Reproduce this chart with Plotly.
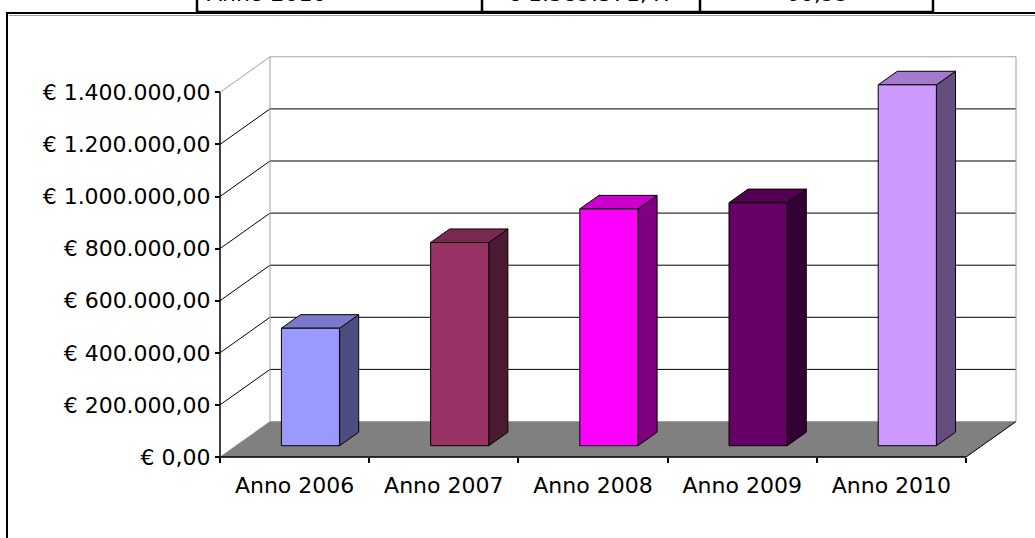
import plotly.graph_objects as go

# data
categories = ["Anno 2006", "Anno 2007", "Anno 2008", "Anno 2009", "Anno 2010"]
values = [451000, 780000, 909000, 933000, 1385371.47]
tick_values = [0, 200000, 400000, 600000, 800000, 1000000, 1200000, 1400000]
tick_labels = ["€ 0,00", "€ 200.000,00", "€ 400.000,00", "€ 600.000,00", "€ 800.000,00",
               "€ 1.000.000,00", "€ 1.200.000,00", "€ 1.400.000,00"]
front_colors = ["#9999FF", "#993366", "#FF00FF", "#660066", "#CC99FF"]
top_colors = ["#7A7ACC", "#7A2952", "#CC00CC", "#520052", "#A37ACC"]
side_colors = ["#4D4D80", "#4D1A33", "#800080", "#330033", "#664D80"]

# table row peeking in at the top of the page
table_row = ["Anno 2010", "€ 1.385.371,47", "60,55"]

W, H = 1035, 538
FONT = "DejaVu Sans, Verdana, sans-serif"
FS = 22

# pixel layout of the 3d box
PX_CAT = 149.2          # pixels per category
PX_VAL = 52.1 / 200000  # pixels per value unit
X0, Y0 = 220, 457       # front-left-bottom corner in pixels
L, R, T, B = 215, 1021, 50, 462   # plot area in pixels
DXc = 50 / PX_CAT       # depth offset in category units
DYv = 35.5 / PX_VAL     # depth offset in value units
vmax = tick_values[-1]
ncat = len(categories)

xr = [(L - X0) / PX_CAT, (R - X0) / PX_CAT]
yr = [(Y0 - B) / PX_VAL, (Y0 - T) / PX_VAL]


def px(x):
    return (x - L) / (R - L)


def py(y):
    return (B - y) / (B - T)


fig = go.Figure()


def line(xs, ys, color="black", width=1):
    fig.add_trace(go.Scatter(x=xs, y=ys, mode="lines", line=dict(color=color, width=width),
                             hoverinfo="skip", showlegend=False))


def poly(xs, ys, fill, color="black", width=1):
    fig.add_trace(go.Scatter(x=xs + xs[:1], y=ys + ys[:1], mode="lines", fill="toself",
                             fillcolor=fill, line=dict(color=color, width=width),
                             hoverinfo="skip", showlegend=False))


# floor
poly([0, ncat, ncat + DXc, DXc], [0, 0, DYv, DYv], "#808080", color="#808080", width=0.5)
line([ncat, ncat + DXc], [0, DYv], "black", 1)

# back wall gridlines and side diagonals
for v in tick_values[1:]:
    c = "#A0A0A0" if v == vmax else "black"
    line([0, DXc, ncat + DXc], [v, v + DYv, v + DYv], c, 1)
line([DXc, DXc], [DYv, vmax + DYv], "#A0A0A0", 1)
line([ncat + DXc, ncat + DXc], [DYv, vmax + DYv], "#A0A0A0", 1)

# front axes
line([0, 0], [0, vmax], "black", 1.5)
line([0, ncat], [0, 0], "black", 1.5)

# bars as boxes
hw, d0, d1 = 0.195, 0.318, 0.70
for i, v in enumerate(values):
    cx = i + 0.5
    xl0, xr0 = cx - hw + d0 * DXc, cx + hw + d0 * DXc
    xl1, xr1 = cx - hw + d1 * DXc, cx + hw + d1 * DXc
    b0, b1 = d0 * DYv, d1 * DYv
    poly([xr0, xr1, xr1, xr0], [b0, b1, v + b1, v + b0], side_colors[i])
    poly([xl0, xr0, xr1, xl1], [v + b0, v + b0, v + b1, v + b1], top_colors[i])
    poly([xl0, xr0, xr0, xl0], [b0, b0, v + b0, v + b0], front_colors[i])

fig.update_layout(
    width=W, height=H,
    margin=dict(l=L, r=W - R, t=T, b=H - B),
    paper_bgcolor="white", plot_bgcolor="white",
    font=dict(family=FONT, size=FS, color="black"),
    xaxis=dict(range=xr, showgrid=False, zeroline=False, showline=False,
               tickvals=[i + 0.5 for i in range(ncat)], ticktext=categories,
               ticks="", anchor="free", position=py(Y0), ticklabelstandoff=13),
    xaxis2=dict(range=xr, overlaying="x", showgrid=False, zeroline=False, showline=False,
                tickvals=list(range(ncat + 1)), showticklabels=False,
                ticks="outside", ticklen=5, tickcolor="black", tickwidth=1.5,
                anchor="free", position=py(Y0), side="bottom"),
    yaxis=dict(range=yr, showgrid=False, zeroline=False, showline=False,
               tickvals=tick_values, ticktext=tick_labels,
               ticks="outside", ticklen=5, tickcolor="black", tickwidth=1.5,
               anchor="free", position=px(X0)),
)
fig.add_trace(go.Scatter(x=[0], y=[0], xaxis="x2", mode="markers", opacity=0,
                         hoverinfo="skip", showlegend=False))

# outer chart frame
shapes = [
    dict(type="rect", xref="paper", yref="paper", x0=px(7), x1=px(W + 20), y0=py(H + 20), y1=py(13),
         line=dict(color="black", width=2), layer="below"),
    dict(type="line", xref="paper", yref="paper", x0=px(9), x1=px(W + 20), y0=py(15.5), y1=py(15.5),
         line=dict(color="#A0A0A0", width=1)),
]
for xv in [197, 482, 700, 933]:
    shapes.append(dict(type="line", xref="paper", yref="paper", x0=px(xv), x1=px(xv),
                       y0=py(13), y1=py(-5), line=dict(color="black", width=2.5)))
shapes.append(dict(type="line", xref="paper", yref="paper", x0=px(197), x1=px(933),
                   y0=py(12), y1=py(12), line=dict(color="black", width=2.5)))
fig.update_layout(shapes=shapes)

cell_x = [(205, "left"), (591, "center"), (817, "center")]
for (xv, anc), txt in zip(cell_x, table_row):
    fig.add_annotation(x=px(xv), y=py(8), xref="paper", yref="paper", text=txt,
                       showarrow=False, xanchor=anc, yanchor="bottom",
                       font=dict(family=FONT, size=FS, color="black"))

# drop the default page margin so the figure sits at the window's corner
fig.write_html("out.html", config={"displayModeBar": False},
               post_script="document.body.style.margin='0';")
